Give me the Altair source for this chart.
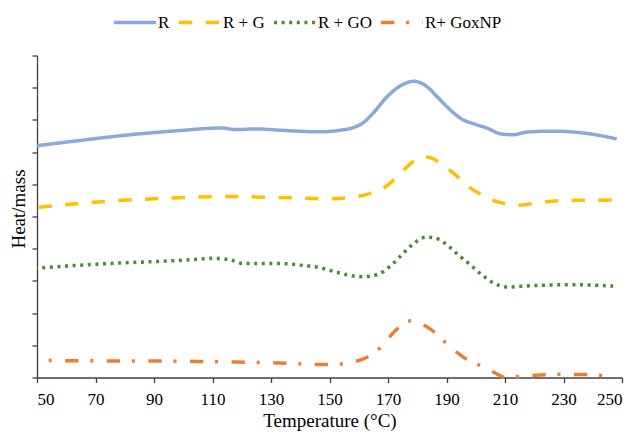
import altair as alt
import pandas as pd

series_names = ["R", "R + G", "R + GO", "R+ GoxNP"]
colors = ["#8AA8DC", "#FFC000", "#4E8A32", "#ED7D31"]
dashes = [[1, 0], [13.3, 13.4], [3, 4.6], [13.3, 11.8, 3, 13.5]]

r_x = [50, 60, 70, 82, 99, 113, 118, 125, 133, 147, 153.6, 158.1, 161.5, 165, 169.7, 174.1,
       178.9, 183.2, 186.7, 190.6, 194.6, 200.3, 203.7, 208.9, 212.7, 217.4, 226.4, 237.9, 248.2]
r_y = [7.20, 7.31, 7.42, 7.54, 7.67, 7.75, 7.70, 7.72, 7.68, 7.63, 7.68, 7.76, 7.91, 8.22, 8.72, 9.05,
       9.20, 9.04, 8.73, 8.37, 8.06, 7.85, 7.75, 7.56, 7.54, 7.62, 7.65, 7.58, 7.41]

g_x = [50, 70.4, 95.5, 115, 133, 149, 160.2, 164, 168.6, 172.5, 175.8, 179.5, 182.5, 185.4,
       188, 190.7, 194.5, 197.8, 202, 205.6, 210, 214, 218, 223.1, 232.2, 247]
g_y = [5.28, 5.45, 5.57, 5.62, 5.59, 5.55, 5.63, 5.72, 5.89, 6.18, 6.48, 6.76, 6.85, 6.80,
       6.63, 6.46, 6.18, 5.91, 5.68, 5.51, 5.40, 5.35, 5.38, 5.45, 5.50, 5.51]

go_x = [50, 60, 70.4, 82, 93.2, 103, 110.3, 115.4, 120.5, 127, 133.1, 140, 146.8, 152, 156.4,
        161.6, 166.7, 170.9, 174.6, 178.4, 183, 185.2, 189.9, 193.7, 197.9, 201.8, 205.8,
        210.8, 218.5, 232.2, 240, 247]
go_y = [3.40, 3.46, 3.52, 3.57, 3.61, 3.66, 3.70, 3.67, 3.54, 3.54, 3.54, 3.49, 3.41, 3.28, 3.18,
        3.13, 3.21, 3.47, 3.80, 4.13, 4.36, 4.35, 4.14, 3.83, 3.52, 3.21, 2.95,
        2.81, 2.85, 2.88, 2.87, 2.84]

np_x = [54, 62, 90, 105, 118, 133, 147, 154, 158, 161.6, 164.5, 167.3, 171.9, 177.8, 181,
        184.4, 189.5, 195.8, 201.5, 206, 210, 215, 222, 229, 237, 245]
np_y = [0.53, 0.52, 0.51, 0.50, 0.48, 0.45, 0.40, 0.42, 0.48, 0.58, 0.72, 0.92, 1.40, 1.76, 1.68,
        1.51, 1.10, 0.63, 0.37, 0.17, 0.01, 0.03, 0.08, 0.10, 0.09, 0.05]

x_ticks = list(range(50, 251, 20))
y_ticks = list(range(0, 11))

rows = []
for name, xs, ys in zip(series_names, [r_x, g_x, go_x, np_x], [r_y, g_y, go_y, np_y]):
    for xv, yv in zip(xs, ys):
        rows.append({"series": name, "temp": xv, "val": yv})
df = pd.DataFrame(rows)

FONT = "Liberation Serif"

legend = alt.Legend(
    title=None,
    orient="none",
    legendX=75,
    legendY=-56,
    direction="horizontal",
    symbolType="stroke",
    symbolSize=1764,
    symbolStrokeWidth=3.6,
    labelFont=FONT,
    labelFontSize=17,
    labelColor="#000000",
    labelOffset=0,
    columnPadding=1,
)

chart = alt.Chart(df).mark_line(
    interpolate="monotone", strokeWidth=3.5, strokeDashOffset=25.1
).encode(
    x=alt.X(
        "temp:Q",
        scale=alt.Scale(domain=[50, 250], nice=False, zero=False),
        axis=alt.Axis(
            values=x_ticks, title="Temperature (°C)", grid=False,
            domainColor="#404040", domainWidth=1.3, tickColor="#404040", tickWidth=1.3,
            tickSize=5, labelFont=FONT, labelFontSize=17, labelColor="#000000",
            labelPadding=9, titleFont=FONT, titleFontSize=19, titleFontWeight="normal",
            titleColor="#000000", titleY=49, titleBaseline="alphabetic",
        ),
    ),
    y=alt.Y(
        "val:Q",
        scale=alt.Scale(domain=[0, 10], nice=False),
        axis=alt.Axis(
            values=y_ticks, labels=False, title="Heat/mass", grid=False,
            domainColor="#404040", domainWidth=1.3, tickColor="#404040", tickWidth=1.3,
            tickSize=5, titleFont=FONT, titleFontSize=19, titleFontWeight="normal",
            titleColor="#000000", titleX=-18.7, titleY=153, titleBaseline="middle",
            titleAlign="center",
        ),
    ),
    color=alt.Color("series:N", scale=alt.Scale(domain=series_names, range=colors), legend=legend),
    strokeDash=alt.StrokeDash("series:N", scale=alt.Scale(domain=series_names, range=dashes), legend=legend),
).properties(
    width=585,
    height=322,
    autosize=alt.AutoSizeParams(type="none"),
    padding={"left": 29, "top": 47.5, "right": 5, "bottom": 54},
).configure_view(stroke=None)

chart.save("out.html", embed_options={"renderer": "svg", "actions": False})
